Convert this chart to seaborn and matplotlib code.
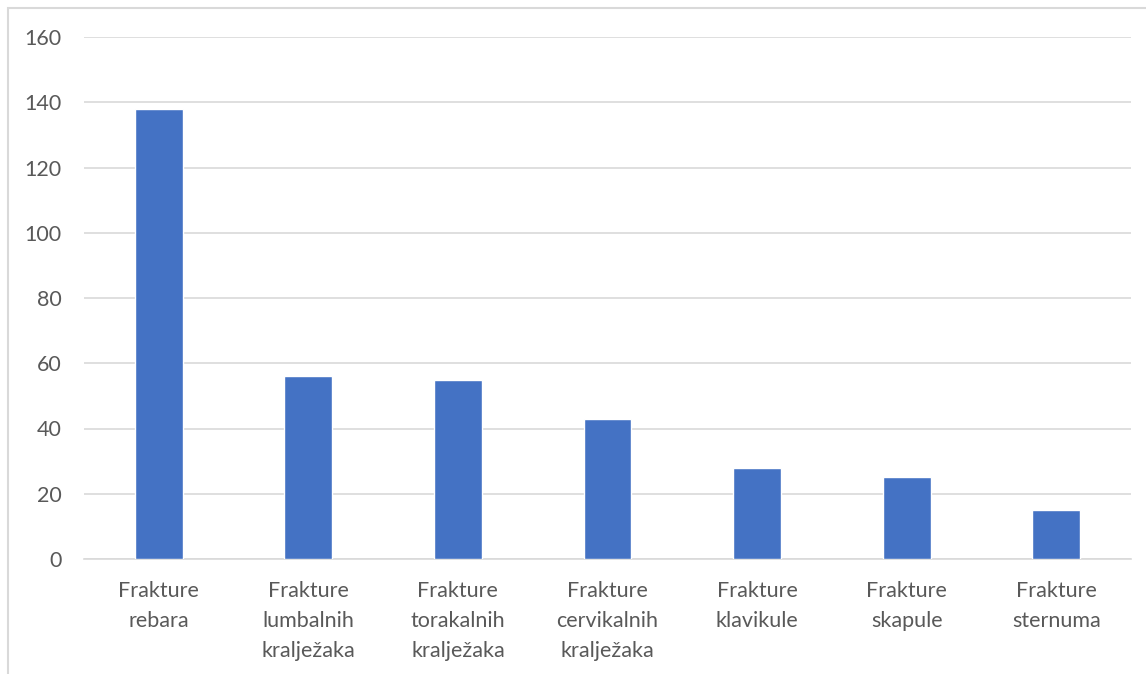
import matplotlib
matplotlib.use("Agg")
import matplotlib.pyplot as plt
import matplotlib.patches as mpatches
import pandas as pd
import seaborn as sns

categories = [
    "Frakture\nrebara",
    "Frakture\nlumbalnih\nkralježaka",
    "Frakture\ntorakalnih\nkralježaka",
    "Frakture\ncervikalnih\nkralježaka",
    "Frakture\nklavikule",
    "Frakture\nskapule",
    "Frakture\nsternuma",
]
counts = [138, 56, 55, 43, 28, 25, 15]
y_ticks = [0, 20, 40, 60, 80, 100, 120, 140, 160]

BAR_COLOR = "#4472c4"
GRID_COLOR = "#d9d9d9"
TEXT_COLOR = "#595959"

sns.set_theme(style="white")
plt.rcParams["font.family"] = ["Lato", "DejaVu Sans"]

df = pd.DataFrame({"category": categories, "count": counts})

fig = plt.figure(figsize=(11.46, 6.74), dpi=100)
ax = fig.add_axes([84 / 1146, 1 - 559 / 674, (1131 - 84) / 1146, (559 - 37) / 674])

sns.barplot(data=df, x="category", y="count", color=BAR_COLOR, width=0.32,
            saturation=1, ax=ax, zorder=3)

ax.set_ylim(0, 160)
ax.set_yticks(y_ticks)
ax.set_xlim(-0.5, len(categories) - 0.5)
ax.yaxis.grid(True, color=GRID_COLOR, linewidth=1.2, zorder=0)
ax.set_axisbelow(True)
for side in ["top", "right", "left"]:
    ax.spines[side].set_visible(False)
ax.spines["bottom"].set_color(GRID_COLOR)
ax.spines["bottom"].set_linewidth(1.2)
ax.tick_params(axis="both", length=0, labelsize=15.5, labelcolor=TEXT_COLOR)
ax.tick_params(axis="y", pad=16)
ax.tick_params(axis="x", pad=16)
for lbl in ax.get_xticklabels():
    lbl.set_linespacing(1.62)
ax.set_xlabel("")
ax.set_ylabel("")

# outer chart frame
frame = mpatches.Rectangle((8 / 1146, -0.1), 1.2, 1 - 8 / 674 + 0.1,
                           transform=fig.transFigure, fill=False,
                           edgecolor=GRID_COLOR, linewidth=1.5)
fig.patches.append(frame)

fig.savefig("out.png", dpi=100)
plt.close(fig)
